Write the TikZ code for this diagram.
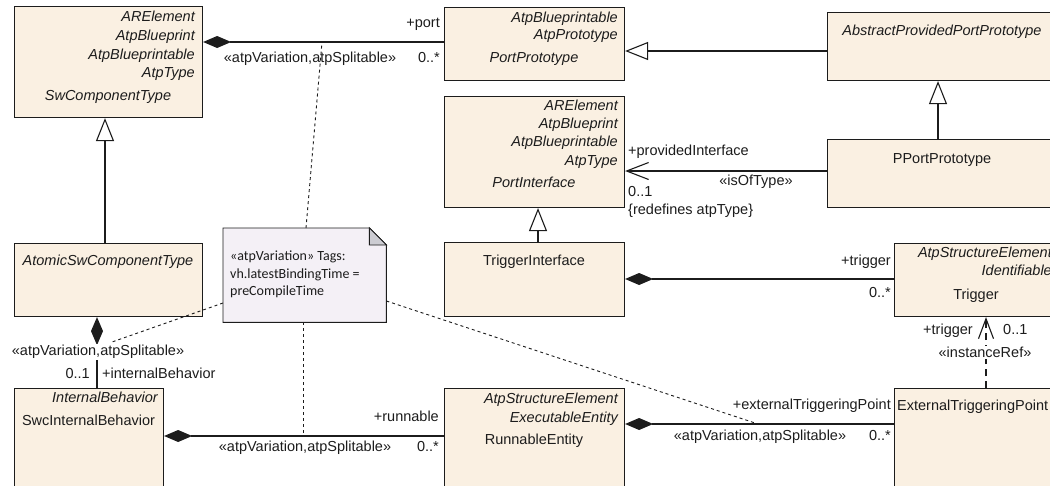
\documentclass[tikz,border=0pt]{standalone}
\usepackage{fontspec}
\setmainfont{Liberation Sans}
\newfontfamily\notefont{Carlito}
\usepackage{xcolor}
\usetikzlibrary{arrows.meta}
\definecolor{boxfill}{RGB}{250,240,226}
\definecolor{notefill}{RGB}{244,240,246}
\definecolor{foldfill}{RGB}{204,204,210}
\definecolor{linecol}{RGB}{28,28,28}

\begin{document}
\begin{tikzpicture}[x=1pt, y=-1pt,
box/.style={draw=linecol, fill=boxfill, line width=1.1pt, inner sep=0pt, anchor=north west},
lbl/.style={font=\fontsize{14.5}{17}\selectfont, text=linecol, inner sep=0pt},
ital/.style={lbl, font=\fontsize{14.5}{17}\selectfont\itshape},
notetxt/.style={font=\notefont\fontsize{14}{17}\selectfont, text=linecol, inner sep=0pt, anchor=mid west},
conn/.style={draw=linecol, line width=1.1pt},
comp/.style={conn, {Diamond[length=28pt,width=12pt]}-},
gen/.style={conn, -{Triangle[length=23pt,width=18pt,fill=white]}},
assoc/.style={conn, -{Straight Barb[length=22pt,width=17pt]}},
noteline/.style={draw=linecol, line width=0.9pt, dash pattern=on 3pt off 3pt}
]
\useasboundingbox (0,0) rectangle (1050,485);
\clip (0,0) rectangle (1050,485);

\node[box, minimum width=188pt, minimum height=111pt] (swct) at (14,6) {};
\node[box, minimum width=188pt, minimum height=73pt] (atomic) at (14,243) {};
\node[box, minimum width=149pt, minimum height=112pt] (ib) at (14,388) {};
\node[box, minimum width=180pt, minimum height=73pt] (port) at (444,7) {};
\node[box, minimum width=180pt, minimum height=111pt] (pif) at (444,96) {};
\node[box, minimum width=180pt, minimum height=74pt] (tif) at (444,242) {};
\node[box, minimum width=180pt, minimum height=112pt] (re) at (444,388) {};
\node[box, minimum width=231pt, minimum height=68pt] (appp) at (827,12) {};
\node[box, minimum width=231pt, minimum height=68pt] (pport) at (827,139) {};
\node[box, minimum width=164pt, minimum height=73pt] (trig) at (894,243) {};
\node[box, minimum width=164pt, minimum height=112pt] (etp) at (894,388) {};

\node[minimum width=163pt, minimum height=94pt, inner sep=0pt, anchor=north west] (note) at (223,228) {};
\filldraw[draw=linecol, fill=notefill, line width=0.9pt] (note.north west) -- ([xshift=-17pt]note.north east) -- ([yshift=-17pt]note.north east) -- (note.south east) -- (note.south west) -- cycle;
\filldraw[draw=linecol, fill=foldfill, line width=0.9pt] ([xshift=-17pt]note.north east) -- ([xshift=-17pt,yshift=-17pt]note.north east) -- ([yshift=-17pt]note.north east) -- cycle;
\node[notetxt] (note-1) at (230,258) {«atpVariation» Tags:};
\node[notetxt] (note-2) at (230,276) {vh.latestBindingTime =};
\node[notetxt] (note-3) at (230,293) {preCompileTime};

\node[ital, anchor=mid east] (swct-1) at (195,19) {ARElement};
\node[ital, anchor=mid east] (swct-2) at (195,38) {AtpBlueprint};
\node[ital, anchor=mid east] (swct-3) at (195,57) {AtpBlueprintable};
\node[ital, anchor=mid east] (swct-4) at (195,75) {AtpType};
\node[ital, anchor=mid] (swct-n) at (108,98) {SwComponentType};
\node[ital, anchor=mid] (atomic-n) at (108,263) {AtomicSwComponentType};
\node[ital, anchor=mid east] (ib-1) at (158,400) {InternalBehavior};
\node[lbl, anchor=mid] (ib-n) at (88.5,423) {SwcInternalBehavior};

\node[ital, anchor=mid east] (port-1) at (618,20) {AtpBlueprintable};
\node[ital, anchor=mid east] (port-2) at (618,37) {AtpPrototype};
\node[ital, anchor=mid] (port-n) at (534,60) {PortPrototype};
\node[ital, anchor=mid east] (pif-1) at (618,108) {ARElement};
\node[ital, anchor=mid east] (pif-2) at (618,126) {AtpBlueprint};
\node[ital, anchor=mid east] (pif-3) at (618,144) {AtpBlueprintable};
\node[ital, anchor=mid east] (pif-4) at (618,163) {AtpType};
\node[ital, anchor=mid] (pif-n) at (534,185) {PortInterface};
\node[lbl, anchor=mid] (tif-n) at (534,263) {TriggerInterface};
\node[ital, anchor=mid east] (re-1) at (618,401) {AtpStructureElement};
\node[ital, anchor=mid east] (re-2) at (618,420) {ExecutableEntity};
\node[lbl, anchor=mid] (re-n) at (534,442) {RunnableEntity};

\node[ital, anchor=mid] (appp-n) at (942,33) {AbstractProvidedPortPrototype};
\node[lbl, anchor=mid] (pport-n) at (942,161) {PPortPrototype};
\node[ital, anchor=mid east] (trig-1) at (1052,255) {AtpStructureElement};
\node[ital, anchor=mid east] (trig-2) at (1052,273) {Identifiable};
\node[lbl, anchor=mid] (trig-n) at (976,297) {Trigger};
\node[lbl, anchor=mid west] (etp-n) at (897,408) {ExternalTriggeringPoint};

\draw[comp] (swct.east |- 0,42) -- (port.west |- 0,42);
\draw[gen] (appp.west |- 0,51) -- (port.east |- 0,51);
\draw[gen] (pport.north -| 938,0) -- (appp.south -| 938,0);
\draw[assoc] (pport.west |- 0,171) -- (pif.east |- 0,171);
\draw[gen] (tif.north -| 538,0) -- (pif.south -| 538,0);
\draw[comp] (tif.east |- 0,279) -- (trig.west |- 0,279);
\draw[gen] (atomic.north -| 105,0) -- (swct.south -| 105,0);
\draw[comp] (atomic.south -| 97,0) -- (ib.north -| 97,0);
\draw[comp] (ib.east |- 0,436) -- (re.west |- 0,436);
\draw[comp] (re.east |- 0,424) -- (etp.west |- 0,424);
\draw[conn, dash pattern=on 7pt off 5pt, -{Straight Barb[length=20pt,width=15pt]}] (etp.north -| 986,0) -- (trig.south -| 986,0);

\coordinate (v1) at (322,42);
\coordinate (v2) at (112,342);
\coordinate (v3) at (303,436);
\coordinate (v4) at (755,423);
\draw[noteline] (note.north -| 306,0) -- (v1);
\draw[noteline] (note.west |- 0,303) -- (v2);
\draw[noteline] (note.south -| 303,0) -- (v3);
\draw[noteline] (note.east |- 0,301) -- (v4);

\node[lbl, anchor=mid east] (l-port) at (440,25) {+port};
\node[lbl, anchor=mid east] (m-port) at (440,60) {0..*};
\node[lbl, anchor=mid] (s-port) at (310,60) {«atpVariation,atpSplitable»};
\node[lbl, anchor=mid west] (l-pif) at (628,153) {+providedInterface};
\node[lbl, anchor=mid] (s-pif) at (756,183) {«isOfType»};
\node[lbl, anchor=mid west] (m-pif) at (628,194) {0..1};
\node[lbl, anchor=mid west] (c-pif) at (628,212) {\{redefines atpType\}};
\node[lbl, anchor=mid east] (l-trig) at (891,263) {+trigger};
\node[lbl, anchor=mid east] (m-trig) at (891,295) {0..*};
\node[lbl, anchor=mid east] (l-ref) at (973,332) {+trigger};
\node[lbl, anchor=mid west] (m-ref) at (1003,332) {0..1};
\node[lbl, anchor=mid, fill=white, inner sep=1pt] (s-ref) at (985,355) {«instanceRef»};
\node[lbl, anchor=mid east] (l-etp) at (891,407) {+externalTriggeringPoint};
\node[lbl, anchor=mid] (s-etp) at (760,438) {«atpVariation,atpSplitable»};
\node[lbl, anchor=mid east] (m-etp) at (891,438) {0..*};
\node[lbl, anchor=mid, fill=white, inner sep=1pt] (s-ib) at (98,353) {«atpVariation,atpSplitable»};
\node[lbl, anchor=mid east] (m-ib) at (90,376) {0..1};
\node[lbl, anchor=mid west] (l-ib) at (102,376) {+internalBehavior};
\node[lbl, anchor=mid east] (l-re) at (439,419) {+runnable};
\node[lbl, anchor=mid] (s-re) at (305,449) {«atpVariation,atpSplitable»};
\node[lbl, anchor=mid east] (m-re) at (439,449) {0..*};
\end{tikzpicture}
\end{document}
